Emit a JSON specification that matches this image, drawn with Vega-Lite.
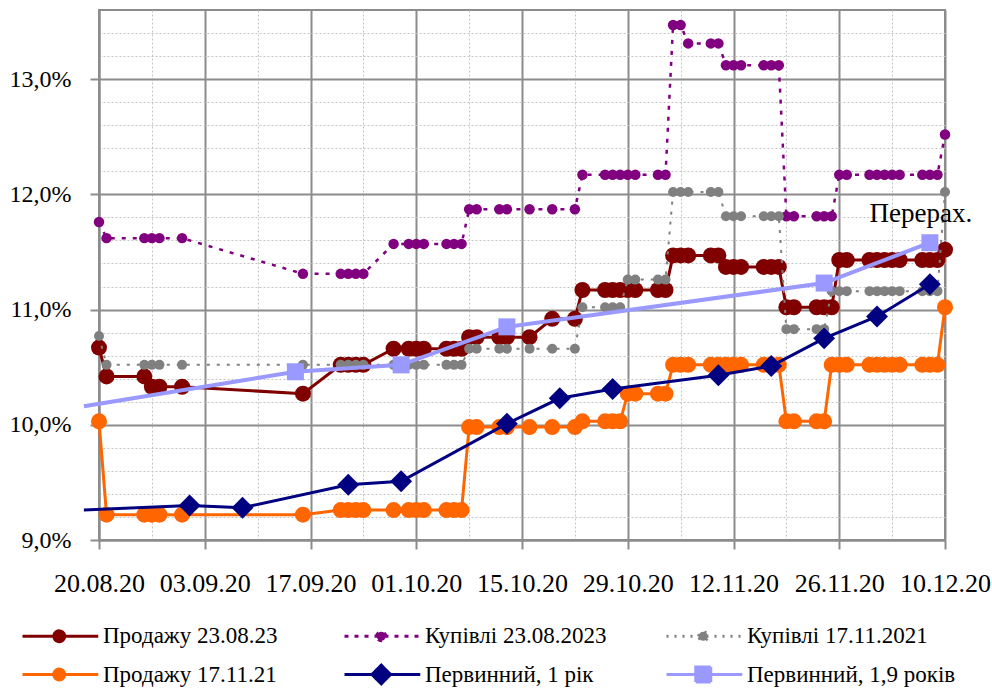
{
  "$schema": "https://vega.github.io/schema/vega-lite/v6.json",
  "width": 846,
  "height": 530,
  "autosize": "none",
  "padding": {"left": 99, "top": 10, "right": 47, "bottom": 148},
  "background": "white",
  "config": {
    "view": {"stroke": "#8c8c8c", "strokeWidth": 2},
    "font": "Liberation Serif"
  },
  "resolve": {"axis": {"x": "independent", "y": "independent"}},
  "datasets": {
    "p23": [
      {"d": "2020-08-20", "v": 10.67}, {"d": "2020-08-21", "v": 10.42}, {"d": "2020-08-26", "v": 10.42}, {"d": "2020-08-27", "v": 10.33}, {"d": "2020-08-28", "v": 10.33}, {"d": "2020-08-31", "v": 10.33},
      {"d": "2020-09-16", "v": 10.27}, {"d": "2020-09-21", "v": 10.52}, {"d": "2020-09-22", "v": 10.52}, {"d": "2020-09-23", "v": 10.52}, {"d": "2020-09-24", "v": 10.52},
      {"d": "2020-09-28", "v": 10.66}, {"d": "2020-09-30", "v": 10.66}, {"d": "2020-10-01", "v": 10.66}, {"d": "2020-10-02", "v": 10.66}, {"d": "2020-10-05", "v": 10.66}, {"d": "2020-10-06", "v": 10.66}, {"d": "2020-10-07", "v": 10.66},
      {"d": "2020-10-08", "v": 10.76}, {"d": "2020-10-09", "v": 10.76}, {"d": "2020-10-12", "v": 10.76}, {"d": "2020-10-13", "v": 10.76}, {"d": "2020-10-16", "v": 10.76}, {"d": "2020-10-19", "v": 10.92}, {"d": "2020-10-22", "v": 10.92},
      {"d": "2020-10-23", "v": 11.17}, {"d": "2020-10-26", "v": 11.17}, {"d": "2020-10-27", "v": 11.17}, {"d": "2020-10-28", "v": 11.17}, {"d": "2020-10-29", "v": 11.17}, {"d": "2020-10-30", "v": 11.17}, {"d": "2020-11-02", "v": 11.17}, {"d": "2020-11-03", "v": 11.17},
      {"d": "2020-11-04", "v": 11.47}, {"d": "2020-11-05", "v": 11.47}, {"d": "2020-11-06", "v": 11.47}, {"d": "2020-11-09", "v": 11.47}, {"d": "2020-11-10", "v": 11.47},
      {"d": "2020-11-11", "v": 11.37}, {"d": "2020-11-12", "v": 11.37}, {"d": "2020-11-13", "v": 11.37}, {"d": "2020-11-16", "v": 11.37}, {"d": "2020-11-17", "v": 11.37}, {"d": "2020-11-18", "v": 11.37},
      {"d": "2020-11-19", "v": 11.02}, {"d": "2020-11-20", "v": 11.02}, {"d": "2020-11-23", "v": 11.02}, {"d": "2020-11-24", "v": 11.02}, {"d": "2020-11-25", "v": 11.02},
      {"d": "2020-11-26", "v": 11.43}, {"d": "2020-11-27", "v": 11.43}, {"d": "2020-11-30", "v": 11.43}, {"d": "2020-12-01", "v": 11.43}, {"d": "2020-12-02", "v": 11.43}, {"d": "2020-12-03", "v": 11.43}, {"d": "2020-12-04", "v": 11.43}, {"d": "2020-12-07", "v": 11.43}, {"d": "2020-12-08", "v": 11.43}, {"d": "2020-12-09", "v": 11.43},
      {"d": "2020-12-10", "v": 11.52}
    ],
    "k23": [
      {"d": "2020-08-20", "v": 11.76}, {"d": "2020-08-21", "v": 11.62}, {"d": "2020-08-26", "v": 11.62}, {"d": "2020-08-27", "v": 11.62}, {"d": "2020-08-28", "v": 11.62}, {"d": "2020-08-31", "v": 11.62},
      {"d": "2020-09-16", "v": 11.31}, {"d": "2020-09-21", "v": 11.31}, {"d": "2020-09-22", "v": 11.31}, {"d": "2020-09-23", "v": 11.31}, {"d": "2020-09-24", "v": 11.31},
      {"d": "2020-09-28", "v": 11.57}, {"d": "2020-09-30", "v": 11.57}, {"d": "2020-10-01", "v": 11.57}, {"d": "2020-10-02", "v": 11.57}, {"d": "2020-10-05", "v": 11.57}, {"d": "2020-10-06", "v": 11.57}, {"d": "2020-10-07", "v": 11.57},
      {"d": "2020-10-08", "v": 11.87}, {"d": "2020-10-09", "v": 11.87}, {"d": "2020-10-12", "v": 11.87}, {"d": "2020-10-13", "v": 11.87}, {"d": "2020-10-16", "v": 11.87}, {"d": "2020-10-19", "v": 11.87}, {"d": "2020-10-22", "v": 11.87},
      {"d": "2020-10-23", "v": 12.17}, {"d": "2020-10-26", "v": 12.17}, {"d": "2020-10-27", "v": 12.17}, {"d": "2020-10-28", "v": 12.17}, {"d": "2020-10-29", "v": 12.17}, {"d": "2020-10-30", "v": 12.17}, {"d": "2020-11-02", "v": 12.17}, {"d": "2020-11-03", "v": 12.17},
      {"d": "2020-11-04", "v": 13.47}, {"d": "2020-11-05", "v": 13.47}, {"d": "2020-11-06", "v": 13.31}, {"d": "2020-11-09", "v": 13.31}, {"d": "2020-11-10", "v": 13.31},
      {"d": "2020-11-11", "v": 13.12}, {"d": "2020-11-12", "v": 13.12}, {"d": "2020-11-13", "v": 13.12}, {"d": "2020-11-16", "v": 13.12}, {"d": "2020-11-17", "v": 13.12}, {"d": "2020-11-18", "v": 13.12},
      {"d": "2020-11-19", "v": 11.81}, {"d": "2020-11-20", "v": 11.81}, {"d": "2020-11-23", "v": 11.81}, {"d": "2020-11-24", "v": 11.81}, {"d": "2020-11-25", "v": 11.81},
      {"d": "2020-11-26", "v": 12.17}, {"d": "2020-11-27", "v": 12.17}, {"d": "2020-11-30", "v": 12.17}, {"d": "2020-12-01", "v": 12.17}, {"d": "2020-12-02", "v": 12.17}, {"d": "2020-12-03", "v": 12.17}, {"d": "2020-12-04", "v": 12.17}, {"d": "2020-12-07", "v": 12.17}, {"d": "2020-12-08", "v": 12.17}, {"d": "2020-12-09", "v": 12.17},
      {"d": "2020-12-10", "v": 12.52}
    ],
    "k21": [
      {"d": "2020-08-20", "v": 10.77}, {"d": "2020-08-21", "v": 10.52}, {"d": "2020-08-26", "v": 10.52}, {"d": "2020-08-27", "v": 10.52}, {"d": "2020-08-28", "v": 10.52}, {"d": "2020-08-31", "v": 10.52},
      {"d": "2020-09-16", "v": 10.52}, {"d": "2020-09-21", "v": 10.52}, {"d": "2020-09-22", "v": 10.52}, {"d": "2020-09-23", "v": 10.52}, {"d": "2020-09-24", "v": 10.52},
      {"d": "2020-09-28", "v": 10.52}, {"d": "2020-09-30", "v": 10.52}, {"d": "2020-10-01", "v": 10.52}, {"d": "2020-10-02", "v": 10.52}, {"d": "2020-10-05", "v": 10.52}, {"d": "2020-10-06", "v": 10.52}, {"d": "2020-10-07", "v": 10.52},
      {"d": "2020-10-08", "v": 10.66}, {"d": "2020-10-09", "v": 10.66}, {"d": "2020-10-12", "v": 10.66}, {"d": "2020-10-13", "v": 10.66}, {"d": "2020-10-16", "v": 10.66}, {"d": "2020-10-19", "v": 10.66}, {"d": "2020-10-22", "v": 10.66},
      {"d": "2020-10-23", "v": 11.02}, {"d": "2020-10-26", "v": 11.02}, {"d": "2020-10-27", "v": 11.02}, {"d": "2020-10-28", "v": 11.02}, {"d": "2020-10-29", "v": 11.26}, {"d": "2020-10-30", "v": 11.26}, {"d": "2020-11-02", "v": 11.26}, {"d": "2020-11-03", "v": 11.26},
      {"d": "2020-11-04", "v": 12.02}, {"d": "2020-11-05", "v": 12.02}, {"d": "2020-11-06", "v": 12.02}, {"d": "2020-11-09", "v": 12.02}, {"d": "2020-11-10", "v": 12.02},
      {"d": "2020-11-11", "v": 11.81}, {"d": "2020-11-12", "v": 11.81}, {"d": "2020-11-13", "v": 11.81}, {"d": "2020-11-16", "v": 11.81}, {"d": "2020-11-17", "v": 11.81}, {"d": "2020-11-18", "v": 11.81},
      {"d": "2020-11-19", "v": 10.83}, {"d": "2020-11-20", "v": 10.83}, {"d": "2020-11-23", "v": 10.83}, {"d": "2020-11-24", "v": 10.83}, {"d": "2020-11-25", "v": 11.16},
      {"d": "2020-11-26", "v": 11.16}, {"d": "2020-11-27", "v": 11.16}, {"d": "2020-11-30", "v": 11.16}, {"d": "2020-12-01", "v": 11.16}, {"d": "2020-12-02", "v": 11.16}, {"d": "2020-12-03", "v": 11.16}, {"d": "2020-12-04", "v": 11.16}, {"d": "2020-12-07", "v": 11.16}, {"d": "2020-12-08", "v": 11.16}, {"d": "2020-12-09", "v": 11.16},
      {"d": "2020-12-10", "v": 12.02}
    ],
    "p21": [
      {"d": "2020-08-20", "v": 10.03}, {"d": "2020-08-21", "v": 9.22}, {"d": "2020-08-26", "v": 9.22}, {"d": "2020-08-27", "v": 9.22}, {"d": "2020-08-28", "v": 9.22}, {"d": "2020-08-31", "v": 9.22},
      {"d": "2020-09-16", "v": 9.22}, {"d": "2020-09-21", "v": 9.26}, {"d": "2020-09-22", "v": 9.26}, {"d": "2020-09-23", "v": 9.26}, {"d": "2020-09-24", "v": 9.26},
      {"d": "2020-09-28", "v": 9.26}, {"d": "2020-09-30", "v": 9.26}, {"d": "2020-10-01", "v": 9.26}, {"d": "2020-10-02", "v": 9.26}, {"d": "2020-10-05", "v": 9.26}, {"d": "2020-10-06", "v": 9.26}, {"d": "2020-10-07", "v": 9.26},
      {"d": "2020-10-08", "v": 9.98}, {"d": "2020-10-09", "v": 9.98}, {"d": "2020-10-12", "v": 9.98}, {"d": "2020-10-13", "v": 9.98}, {"d": "2020-10-16", "v": 9.98}, {"d": "2020-10-19", "v": 9.98}, {"d": "2020-10-22", "v": 9.98},
      {"d": "2020-10-23", "v": 10.03}, {"d": "2020-10-26", "v": 10.03}, {"d": "2020-10-27", "v": 10.03}, {"d": "2020-10-28", "v": 10.03}, {"d": "2020-10-29", "v": 10.27}, {"d": "2020-10-30", "v": 10.27}, {"d": "2020-11-02", "v": 10.27}, {"d": "2020-11-03", "v": 10.27},
      {"d": "2020-11-04", "v": 10.52}, {"d": "2020-11-05", "v": 10.52}, {"d": "2020-11-06", "v": 10.52}, {"d": "2020-11-09", "v": 10.52}, {"d": "2020-11-10", "v": 10.52},
      {"d": "2020-11-11", "v": 10.52}, {"d": "2020-11-12", "v": 10.52}, {"d": "2020-11-13", "v": 10.52}, {"d": "2020-11-16", "v": 10.52}, {"d": "2020-11-17", "v": 10.52}, {"d": "2020-11-18", "v": 10.52},
      {"d": "2020-11-19", "v": 10.03}, {"d": "2020-11-20", "v": 10.03}, {"d": "2020-11-23", "v": 10.03}, {"d": "2020-11-24", "v": 10.03}, {"d": "2020-11-25", "v": 10.52},
      {"d": "2020-11-26", "v": 10.52}, {"d": "2020-11-27", "v": 10.52}, {"d": "2020-11-30", "v": 10.52}, {"d": "2020-12-01", "v": 10.52}, {"d": "2020-12-02", "v": 10.52}, {"d": "2020-12-03", "v": 10.52}, {"d": "2020-12-04", "v": 10.52}, {"d": "2020-12-07", "v": 10.52}, {"d": "2020-12-08", "v": 10.52}, {"d": "2020-12-09", "v": 10.52},
      {"d": "2020-12-10", "v": 11.02}
    ],
    "n1": [
      {"d": "2020-08-18", "v": 9.26}, {"d": "2020-09-01", "v": 9.30}, {"d": "2020-09-08", "v": 9.28}, {"d": "2020-09-22", "v": 9.48}, {"d": "2020-09-29", "v": 9.51},
      {"d": "2020-10-13", "v": 10.01}, {"d": "2020-10-20", "v": 10.23}, {"d": "2020-10-27", "v": 10.31}, {"d": "2020-11-10", "v": 10.43}, {"d": "2020-11-17", "v": 10.51},
      {"d": "2020-11-24", "v": 10.75}, {"d": "2020-12-01", "v": 10.94}, {"d": "2020-12-08", "v": 11.22}
    ],
    "n19": [
      {"d": "2020-08-18", "v": 10.16}, {"d": "2020-09-15", "v": 10.46}, {"d": "2020-09-29", "v": 10.52}, {"d": "2020-10-13", "v": 10.85}, {"d": "2020-11-24", "v": 11.23}, {"d": "2020-12-08", "v": 11.58}
    ],
    "note": [
      {"d": "2020-12-08", "v": 11.58, "t": "Перерах."}
    ]
  },
  "layer": [
    {
      "data": {"name": "p23"},
      "mark": {"type": "line", "strokeWidth": 3, "point": {"filled": true, "size": 256, "opacity": 1}},
      "encoding": {
        "x": {"field": "d", "type": "temporal",
          "scale": {"type": "utc", "domain": [{"year": 2020, "month": 8, "date": 20, "utc": true}, {"year": 2020, "month": 12, "date": 10, "utc": true}]},
          "axis": {"orient": "bottom", "title": null, "format": "%d.%m.%y",
            "values": [{"year": 2020, "month": 8, "date": 20, "utc": true}, {"year": 2020, "month": 9, "date": 3, "utc": true}, {"year": 2020, "month": 9, "date": 17, "utc": true}, {"year": 2020, "month": 10, "date": 1, "utc": true}, {"year": 2020, "month": 10, "date": 15, "utc": true}, {"year": 2020, "month": 10, "date": 29, "utc": true}, {"year": 2020, "month": 11, "date": 12, "utc": true}, {"year": 2020, "month": 11, "date": 26, "utc": true}, {"year": 2020, "month": 12, "date": 10, "utc": true}],
            "grid": true, "gridColor": "#8c8c8c", "gridWidth": 2,
            "domainColor": "#8c8c8c", "domainWidth": 2, "tickColor": "#8c8c8c", "tickWidth": 2, "tickSize": 9,
            "labelFont": "Liberation Serif", "labelFontSize": 26, "labelColor": "black", "labelPadding": 21,
            "labelFlush": false, "labelOverlap": false, "labelBound": false}},
        "y": {"field": "v", "type": "quantitative",
          "scale": {"domain": [9, 13.6], "zero": false, "nice": false},
          "axis": {"orient": "left", "title": null, "values": [9, 10, 11, 12, 13],
            "labelExpr": "replace(format(datum.value, '.1f'), '.', ',') + '%'",
            "grid": true, "gridColor": "#8c8c8c", "gridWidth": 2,
            "domainColor": "#8c8c8c", "domainWidth": 2, "tickColor": "#8c8c8c", "tickWidth": 2, "tickSize": 9,
            "labelFont": "Liberation Serif", "labelFontSize": 24, "labelColor": "black", "labelPadding": 19}},
        "color": {"datum": "Продажу 23.08.23", "type": "nominal",
          "scale": {"domain": ["Продажу 23.08.23", "Купівлі 23.08.2023", "Купівлі 17.11.2021", "Продажу 17.11.21", "Первинний, 1 рік", "Первинний, 1,9 років"],
                    "range": ["#800000", "#800080", "#808080", "#FF6600", "#000080", "#9999FF"]},
          "legend": {"orient": "none", "legendX": -78, "legendY": 608, "title": null, "columns": 3, "direction": "horizontal",
            "gridAlign": "all", "columnPadding": 26, "rowPadding": 8, "padding": 0,
            "symbolSize": 900, "symbolStrokeWidth": 3, "symbolOpacity": 1, "symbolType": "M-1,0H4.05M1.09,0A0.36,0.36,0,1,1,1.81,0A0.36,0.36,0,1,1,1.09,0Z",
            "labelFont": "Liberation Serif", "labelFontSize": 23, "labelColor": "black", "labelOffset": 49, "labelLimit": 400}}
      }
    },
    {
      "data": {"name": "k23"},
      "mark": {"type": "line", "strokeWidth": 2.5, "strokeDash": [4, 7], "point": {"filled": true, "size": 110, "opacity": 1}},
      "encoding": {
        "x": {"field": "d", "type": "temporal", "axis": null},
        "y": {"field": "v", "type": "quantitative", "axis": null},
        "color": {"datum": "Купівлі 23.08.2023", "type": "nominal", "legend": null}
      }
    },
    {
      "data": {"name": "k21"},
      "mark": {"type": "line", "strokeWidth": 2, "strokeDash": [3, 7], "point": {"filled": true, "size": 100, "opacity": 1}},
      "encoding": {
        "x": {"field": "d", "type": "temporal", "axis": null},
        "y": {"field": "v", "type": "quantitative", "axis": null},
        "color": {"datum": "Купівлі 17.11.2021", "type": "nominal", "legend": null}
      }
    },
    {
      "data": {"name": "p21"},
      "mark": {"type": "line", "strokeWidth": 3, "point": {"filled": true, "size": 256, "opacity": 1}},
      "encoding": {
        "x": {"field": "d", "type": "temporal", "axis": null},
        "y": {"field": "v", "type": "quantitative", "axis": null},
        "color": {"datum": "Продажу 17.11.21", "type": "nominal", "legend": null}
      }
    },
    {
      "data": {"name": "n1"},
      "mark": {"type": "line", "strokeWidth": 3},
      "encoding": {
        "x": {"field": "d", "type": "temporal", "axis": null},
        "y": {"field": "v", "type": "quantitative", "axis": null},
        "color": {"datum": "Первинний, 1 рік", "type": "nominal", "legend": null}
      }
    },
    {
      "data": {"name": "n1"},
      "mark": {"type": "point", "shape": "diamond", "filled": true, "size": 480, "opacity": 1, "clip": true},
      "encoding": {
        "x": {"field": "d", "type": "temporal", "axis": null},
        "y": {"field": "v", "type": "quantitative", "axis": null},
        "color": {"datum": "Первинний, 1 рік", "type": "nominal", "legend": null}
      }
    },
    {
      "data": {"name": "n19"},
      "mark": {"type": "line", "strokeWidth": 4},
      "encoding": {
        "x": {"field": "d", "type": "temporal", "axis": null},
        "y": {"field": "v", "type": "quantitative", "axis": null},
        "color": {"datum": "Первинний, 1,9 років", "type": "nominal", "legend": null}
      }
    },
    {
      "data": {"name": "n19"},
      "mark": {"type": "point", "shape": "square", "filled": true, "size": 289, "opacity": 1, "clip": true},
      "encoding": {
        "x": {"field": "d", "type": "temporal", "axis": null},
        "y": {"field": "v", "type": "quantitative", "axis": null},
        "color": {"datum": "Первинний, 1,9 років", "type": "nominal", "legend": null}
      }
    },
    {
      "data": {"values": []},
      "mark": {"type": "point", "filled": true, "opacity": 1},
      "encoding": {
        "x": {"field": "d", "type": "temporal", "axis": null},
        "y": {"field": "v", "type": "quantitative", "axis": null},
        "color": {"field": "s", "type": "nominal", "legend": null},
        "shape": {"field": "s", "type": "nominal",
          "scale": {"domain": ["Продажу 23.08.23", "Купівлі 23.08.2023", "Купівлі 17.11.2021", "Продажу 17.11.21", "Первинний, 1 рік", "Первинний, 1,9 років"],
                    "range": ["M-1,0H4.05M1.09,0A0.36,0.36,0,1,1,1.81,0A0.36,0.36,0,1,1,1.09,0Z", "M-1,0H4.05M1.15,0A0.3,0.3,0,1,1,1.75,0A0.3,0.3,0,1,1,1.15,0Z", "M-1,0H4.05M1.15,0A0.3,0.3,0,1,1,1.75,0A0.3,0.3,0,1,1,1.15,0Z", "M-1,0H4.05M1.09,0A0.36,0.36,0,1,1,1.81,0A0.36,0.36,0,1,1,1.09,0Z", "M-1,0H4.05M1.45,-0.62L2.07,0L1.45,0.62L0.83,0Z", "M-1,0H4.05M0.95,-0.5H1.95V0.5H0.95Z"]},
          "legend": {"title": null}},
        "strokeDash": {"field": "s", "type": "nominal",
          "scale": {"domain": ["Продажу 23.08.23", "Купівлі 23.08.2023", "Купівлі 17.11.2021", "Продажу 17.11.21", "Первинний, 1 рік", "Первинний, 1,9 років"],
                    "range": [[1, 0], [4, 6], [2, 6], [1, 0], [1, 0], [1, 0]]},
          "legend": {"title": null}}
      }
    },
    {
      "data": {"name": "note"},
      "mark": {"type": "text", "font": "Liberation Serif", "fontSize": 27, "color": "black", "align": "center", "baseline": "alphabetic", "dx": -9, "dy": -21},
      "encoding": {
        "x": {"field": "d", "type": "temporal",
          "axis": {"orient": "top", "title": null, "labels": false, "ticks": false, "domain": false,
            "values": [{"year": 2020, "month": 8, "date": 27, "utc": true}, {"year": 2020, "month": 9, "date": 10, "utc": true}, {"year": 2020, "month": 9, "date": 24, "utc": true}, {"year": 2020, "month": 10, "date": 8, "utc": true}, {"year": 2020, "month": 10, "date": 22, "utc": true}, {"year": 2020, "month": 11, "date": 5, "utc": true}, {"year": 2020, "month": 11, "date": 19, "utc": true}, {"year": 2020, "month": 12, "date": 3, "utc": true}],
            "grid": true, "gridColor": "#c4c4c4", "gridWidth": 1, "gridDash": [2, 2]}},
        "y": {"field": "v", "type": "quantitative",
          "axis": {"orient": "right", "title": null, "labels": false, "ticks": false, "domain": false,
            "values": [9.2, 9.4, 9.6, 9.8, 10.2, 10.4, 10.6, 10.8, 11.2, 11.4, 11.6, 11.8, 12.2, 12.4, 12.6, 12.8, 13.2, 13.4],
            "grid": true, "gridColor": "#c4c4c4", "gridWidth": 1, "gridDash": [2, 2]}},
        "text": {"field": "t"}
      }
    }
  ]
}
